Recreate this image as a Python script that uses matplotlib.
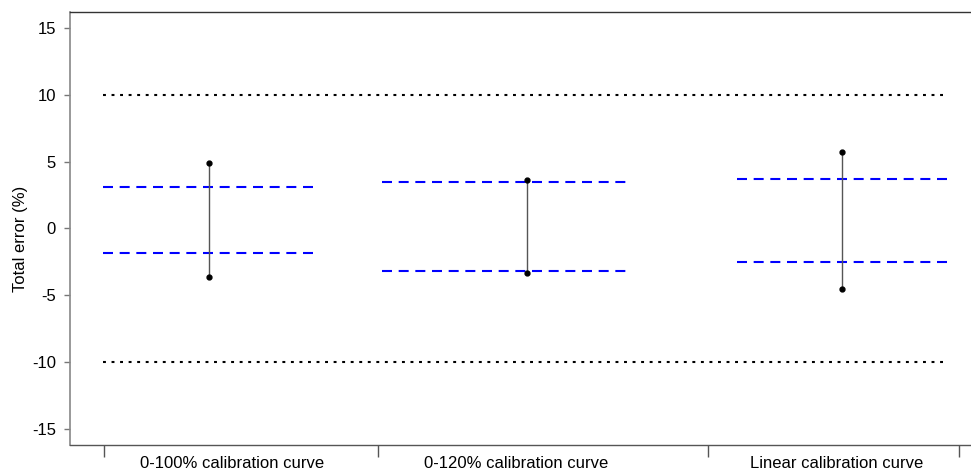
import matplotlib.pyplot as plt

plt.rcParams["font.family"] = ["Liberation Sans", "DejaVu Sans"]

# Horizontal layout in axis units (one unit = one hundred pixels of the plot)
categories = ["0-100% calibration curve", "0-120% calibration curve", "Linear calibration curve"]
label_pos = [1.62, 4.46, 7.67]
bar_pos = [1.39, 4.57, 7.72]
span_lo = [0.33, 3.12, 6.67]
span_hi = [2.46, 5.62, 8.78]
boundaries = [0.34, 3.08, 6.38, 8.89]

# Total error range (min/max) and bias limits for each calibration approach
err_max = [4.9, 3.6, 5.7]
err_min = [-3.6, -3.3, -4.5]
limit_hi = [3.1, 3.5, 3.7]
limit_lo = [-1.8, -3.2, -2.5]

# Acceptance limits
accept = [10, -10]
yticks = [15, 10, 5, 0, -5, -10, -15]

fig = plt.figure(figsize=(9.71, 4.70), dpi=100)
ax = fig.add_axes([70 / 971, 25 / 470, 1 - 70 / 971, (445 - 12) / 470])

for y in accept:
    ax.plot([span_lo[0], span_hi[-1] - 0.02], [y, y], color="black", lw=1.5,
            linestyle=(0, (1.4, 2.7)), solid_capstyle="butt")

for i in range(len(categories)):
    for y in (limit_hi[i], limit_lo[i]):
        ax.plot([span_lo[i], span_hi[i]], [y, y], color="#0000ff", lw=1.5,
                linestyle=(0, (4.8, 3.2)))
    ax.plot([bar_pos[i], bar_pos[i]], [err_min[i], err_max[i]], color="#555555", lw=1.0)
    ax.plot([bar_pos[i], bar_pos[i]], [err_min[i], err_max[i]], "o", color="black",
            markersize=3.5, linestyle="none")

ax.set_xlim(0, 9.01)
ax.set_ylim(-16.2, 16.2)

ax.set_yticks(yticks)
ax.set_yticklabels([str(v) for v in yticks], fontsize=12)
ax.set_xticks(boundaries)
ax.set_xticklabels([])
ax.set_xticks(label_pos, minor=True)
ax.set_xticklabels(categories, minor=True, fontsize=12)
ax.tick_params(axis="x", which="minor", length=0, pad=8)
ax.tick_params(axis="x", which="major", length=8.5, color="#555555", width=1)
ax.tick_params(axis="y", length=4.5, color="#777777", width=1, pad=5.5)

ax.set_ylabel("Total error (%)", fontsize=12)
ax.yaxis.set_label_coords(-0.047, 0.475)

ax.spines["right"].set_visible(False)
ax.spines["left"].set_color("#888888")
ax.spines["left"].set_linewidth(1.2)
ax.spines["top"].set_color("#333333")
ax.spines["top"].set_linewidth(1.0)
ax.spines["bottom"].set_color("#555555")
ax.spines["bottom"].set_linewidth(1.0)

fig.savefig("out.png", dpi=100)
